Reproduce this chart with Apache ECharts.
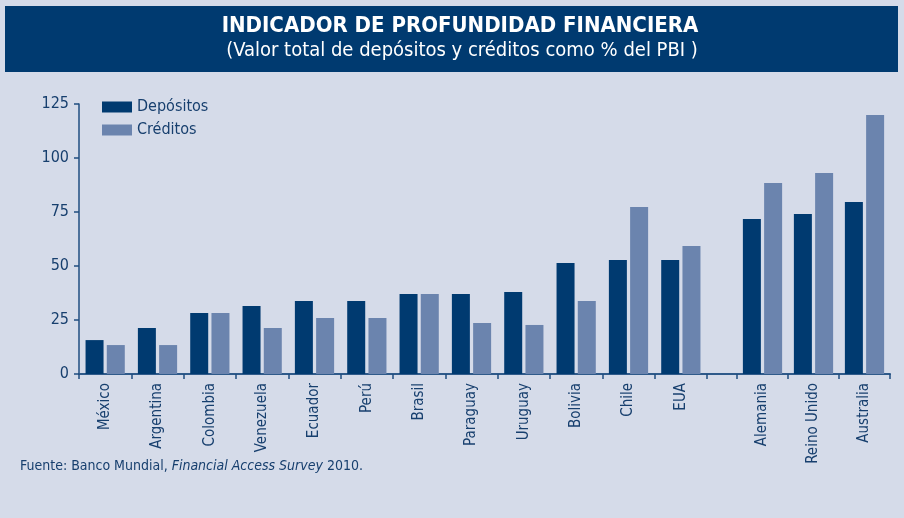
<!DOCTYPE html>
<html>
<head>
<meta charset="utf-8">
<script src="https://cdn.jsdelivr.net/npm/echarts@6/dist/echarts.min.js"></script>
<style>
html,body{margin:0;padding:0;background:#d5dbe9;}
#c{width:904px;height:518px;}
</style>
</head>
<body>
<div id="c"></div>
<script>
// Data
var categoriesA = ['México','Argentina','Colombia','Venezuela','Ecuador','Perú','Brasil','Paraguay','Uruguay','Bolivia','Chile','EUA'];
var depositosA = [15.7, 21.3, 28.2, 31.5, 33.8, 33.8, 37.0, 37.0, 38.0, 51.4, 52.8, 52.8];
var creditosA  = [13.4, 13.4, 28.2, 21.3, 25.9, 25.9, 37.0, 23.6, 22.7, 33.8, 77.3, 59.3];
var categoriesB = ['Alemania','Reino Unido','Australia'];
var depositosB = [71.8, 74.1, 79.6];
var creditosB  = [88.4, 93.0, 119.9];
var yTicks = [0, 25, 50, 75, 100, 125];

var DARK = '#003a70', LIGHT = '#6b84ae', TXT = '#173f6e';
var FONT = "'Liberation Sans Narrow','DejaVu Sans Condensed','Open Sans',sans-serif";

var chart = echarts.init(document.getElementById('c'));

function xAxis(idx, cats, showLabel){
  return {
    type:'category', gridIndex: idx, data: cats,
    axisLine:{show:true, lineStyle:{color:'#2f5a8a', width:2}},
    axisTick:{show:true, length:5, lineStyle:{color:'#1f4e80', width:1.5}},
    axisLabel:{show:showLabel, rotate:90, margin:9, color:TXT, fontSize:15, fontFamily:FONT},
    splitLine:{show:false}
  };
}
function yAxis(idx, show){
  return {
    type:'value', gridIndex: idx, min: yTicks[0], max: yTicks[yTicks.length-1], interval: 25,
    show: show,
    axisLine:{show:true, lineStyle:{color:'#1f4e80', width:1.5}},
    axisTick:{show:true, length:5, lineStyle:{color:'#1f4e80', width:1.5}},
    axisLabel:{show:true, margin:10, color:TXT, fontSize:16, fontFamily:FONT},
    splitLine:{show:false}
  };
}

chart.setOption({
  backgroundColor:'#d5dbe9',
  animation:false,
  grid:[
    {left:79, right:197, top:104, bottom:144},
    {left:707, right:167, top:104, bottom:144},
    {left:737, right:14, top:104, bottom:144}
  ],
  xAxis:[ xAxis(0, categoriesA, true), xAxis(1, [''], false), xAxis(2, categoriesB, true) ],
  yAxis:[ yAxis(0, true), yAxis(1, false), yAxis(2, false) ],
  legend:{
    orient:'vertical', left:97, top:94, itemWidth:30, itemHeight:11, itemGap:7,
    icon:'rect',
    textStyle:{color:TXT, fontSize:16, fontFamily:FONT},
    data:['Depósitos','Créditos']
  },
  series:[
    {name:'Depósitos', type:'bar', xAxisIndex:0, yAxisIndex:0, data:depositosA, barWidth:18, barGap:'18%', itemStyle:{color:DARK}},
    {name:'Créditos', type:'bar', xAxisIndex:0, yAxisIndex:0, data:creditosA, barWidth:18, barGap:'18%', itemStyle:{color:LIGHT}},
    {name:'Depósitos', type:'bar', xAxisIndex:2, yAxisIndex:2, data:depositosB, barWidth:18, barGap:'18%', itemStyle:{color:DARK}},
    {name:'Créditos', type:'bar', xAxisIndex:2, yAxisIndex:2, data:creditosB, barWidth:18, barGap:'18%', itemStyle:{color:LIGHT}}
  ],
  graphic:[
    {type:'rect', shape:{x:5, y:6, width:893, height:66}, style:{fill:'#003a70'}, z:-1},
    {type:'text', x:460, y:26, style:{text:'INDICADOR DE PROFUNDIDAD FINANCIERA', fill:'#ffffff', font:"bold 22px 'Liberation Sans Narrow','DejaVu Sans Condensed',sans-serif", align:'center', verticalAlign:'middle'}},
    {type:'text', x:462, y:51, style:{text:'(Valor total de depósitos y créditos como % del PBI )', fill:'#ffffff', font:"20px 'Liberation Sans Narrow','DejaVu Sans Condensed',sans-serif", align:'center', verticalAlign:'middle'}},
    {type:'text', x:20, y:466, style:{
      text:'{n|Fuente: Banco Mundial, }{i|Financial Access Survey}{n| 2010.}',
      verticalAlign:'middle',
      rich:{
        n:{fontSize:14, fontFamily:FONT, fill:TXT, color:TXT},
        i:{fontSize:14, fontFamily:FONT, fontStyle:'italic', fill:TXT, color:TXT}
      }
    }}
  ]
});
</script>
</body>
</html>
